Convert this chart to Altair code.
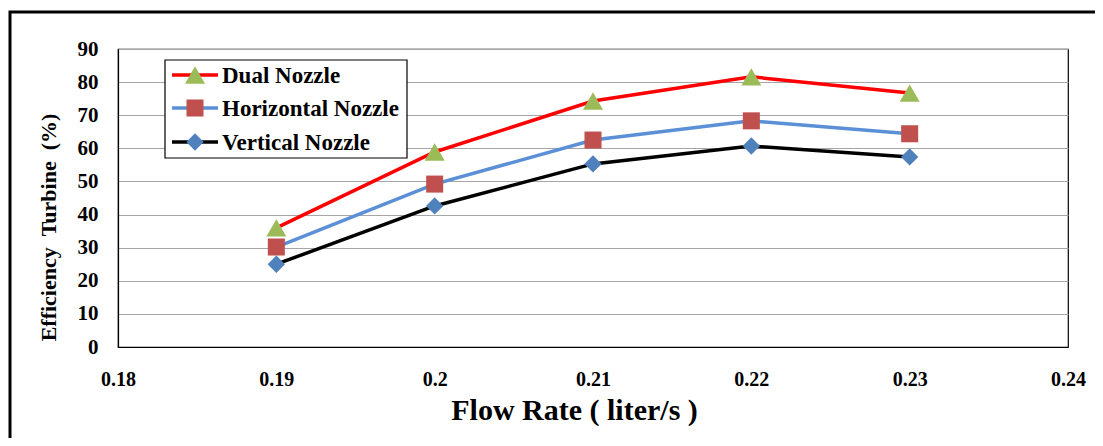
import altair as alt
import pandas as pd

flow = [0.19, 0.20, 0.21, 0.22, 0.23]
dual = [36.0, 58.9, 74.3, 81.6, 76.7]
horizontal = [30.2, 49.2, 62.5, 68.3, 64.4]
vertical = [25.0, 42.6, 55.3, 60.7, 57.4]

series_names = ["Dual Nozzle", "Horizontal Nozzle", "Vertical Nozzle"]
line_colors = ["#FF0000", "#5B8FD6", "#000000"]
marker_colors = ["#9BBB59", "#C0504D", "#4F81BD"]
marker_shapes = ["triangle-up", "square", "diamond"]
marker_sizes = [400, 290, 300]

FONT = "'Times New Roman', 'Liberation Serif', 'DejaVu Serif', serif"
W, H = 950, 298

rows = []
for name, vals in zip(series_names, [dual, horizontal, vertical]):
    for f, v in zip(flow, vals):
        rows.append({"flow": f, "eff": v, "series": name})
df = pd.DataFrame(rows)

xenc = alt.X("flow:Q", scale=alt.Scale(domain=[0.18, 0.24], nice=False),
             axis=alt.Axis(values=[0.18, 0.19, 0.2, 0.21, 0.22, 0.23, 0.24],
                           format="~g", grid=False, ticks=False, labelFlush=False,
                           labelPadding=22, title="Flow Rate ( liter/s )",
                           titlePadding=6, titleX=456))
yenc = alt.Y("eff:Q", scale=alt.Scale(domain=[0, 90], nice=False),
             axis=alt.Axis(values=list(range(0, 91, 10)), ticks=False, labelFlush=False,
                           labelPadding=20,
                           title="Efficiency\u00a0\u00a0Turbine\u00a0\u00a0(%)",
                           titlePadding=17, titleY=178,
                           gridColor="#A6A6A6", gridWidth=1.2))

layers = []
for i, name in enumerate(series_names):
    sub = df[df.series == name]
    base = alt.Chart(sub).encode(x=xenc, y=yenc)
    layers.append(base.mark_line(color=line_colors[i], strokeWidth=3.5))
for i, name in enumerate(series_names):
    sub = df[df.series == name]
    base = alt.Chart(sub).encode(x=xenc, y=yenc)
    layers.append(base.mark_point(shape=marker_shapes[i], filled=True,
                                  color=marker_colors[i], opacity=1,
                                  size=marker_sizes[i]))

# manual legend
dummy = pd.DataFrame({"a": [0]})
legend_layers = [
    alt.Chart(dummy).mark_rect(fill="white", stroke="black", strokeWidth=1.2).encode(
        x=alt.value(47), x2=alt.value(289), y=alt.value(11), y2=alt.value(109))
]
ys = [26, 59, 93]
for i, name in enumerate(series_names):
    legend_layers.append(alt.Chart(dummy).mark_rule(color=line_colors[i], strokeWidth=3.5).encode(
        x=alt.value(54), x2=alt.value(100), y=alt.value(ys[i])))
    legend_layers.append(alt.Chart(dummy).mark_point(shape=marker_shapes[i], filled=True,
                                                     color=marker_colors[i], opacity=1,
                                                     size=marker_sizes[i]).encode(
        x=alt.value(77), y=alt.value(ys[i])))
    legend_layers.append(alt.Chart(pd.DataFrame({"t": [name]})).mark_text(
        align="left", baseline="middle", font=FONT, fontWeight="bold", fontSize=23,
        color="black").encode(x=alt.value(104), y=alt.value(ys[i] + 1), text="t:N"))

frame = alt.Chart(dummy).mark_rect(filled=False, stroke="black", strokeWidth=3).encode(
    x=alt.value(-108), x2=alt.value(1010), y=alt.value(-37), y2=alt.value(420))

chart = alt.layer(frame, *layers, *legend_layers).properties(
    width=W, height=H,
    autosize=alt.AutoSizeParams(type="none"),
    padding={"left": 110, "top": 41, "right": 27, "bottom": 91},
).configure_view(stroke="black", strokeWidth=1.2).configure_axis(
    labelFont=FONT, labelFontWeight="bold", labelColor="black",
    titleFont=FONT, titleFontWeight="bold", titleColor="black",
    domainColor="black", domainWidth=1.2,
).configure_axisX(titleFontSize=30, labelFontSize=20).configure_axisY(
    titleFontSize=22, labelFontSize=21)

chart.save("out.html", embed_options={"renderer": "svg", "actions": False})
